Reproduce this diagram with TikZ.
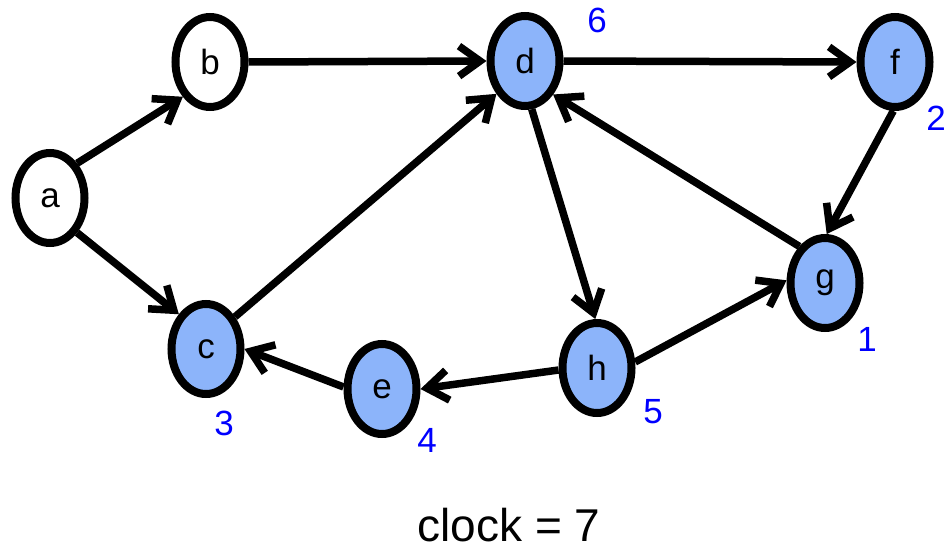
\documentclass[tikz,border=0pt]{standalone}
\usepackage{fontspec}
\setmainfont{Liberation Sans}
\usetikzlibrary{arrows.meta,shapes.geometric}
\definecolor{nodeblue}{RGB}{140,180,250}
\definecolor{labblue}{RGB}{0,0,255}
\tikzset{
  vtx/.style={ellipse, draw=black, line width=8pt, minimum width=69pt, minimum height=90pt, inner sep=0pt, font=\fontsize{35}{40}\selectfont},
  done/.style={vtx, fill=nodeblue},
  fresh/.style={vtx, fill=white},
  lab/.style={text=labblue, font=\fontsize{35}{40}\selectfont, inner sep=0pt},
  edge/.style={line width=7.5pt, -{Straight Barb[length=21pt,width=30pt]}}
}
\begin{document}
\begin{tikzpicture}[x=1pt,y=-1pt]
\useasboundingbox (0,0) rectangle (945,549);
\node[fresh] (a) at (50,198) {a};
\node[fresh] (b) at (210,62) {b};
\node[done] (d) at (525,61) {d};
\node[done] (f) at (895,62) {f};
\node[done] (g) at (825,283) {g};
\node[done] (h) at (597,368) {h};
\node[done] (e) at (382,389) {e};
\node[done] (c) at (206,349) {c};
\node[lab] (l6) at (597,20) {6};
\node[lab] (l2) at (936,118) {2};
\node[lab] (l1) at (867,339) {1};
\node[lab] (l5) at (653,412) {5};
\node[lab] (l4) at (427,440) {4};
\node[lab] (l3) at (224,423) {3};
\node[anchor=base, font=\fontsize{46}{50}\selectfont, inner sep=0pt] (clk) at (509,541) {clock = 7};
\draw[edge] (a.52) -- (b.232);
\draw[edge] (a.-52) -- (c.128);
\draw[edge] (b.0) -- (d.180);
\draw[edge] (d.0) -- (f.180);
\draw[edge] (c.48) -- (d.229);
\draw[edge] (d.-82) -- (h.92);
\draw[edge] (g.125) -- (d.-50);
\draw[edge] (f.-92) -- (g.88);
\draw[edge] (h.9) -- (g.176);
\draw[edge] (h.183) -- (e.0);
\draw[edge] (e.177) -- (c.0);
\end{tikzpicture}
\end{document}
